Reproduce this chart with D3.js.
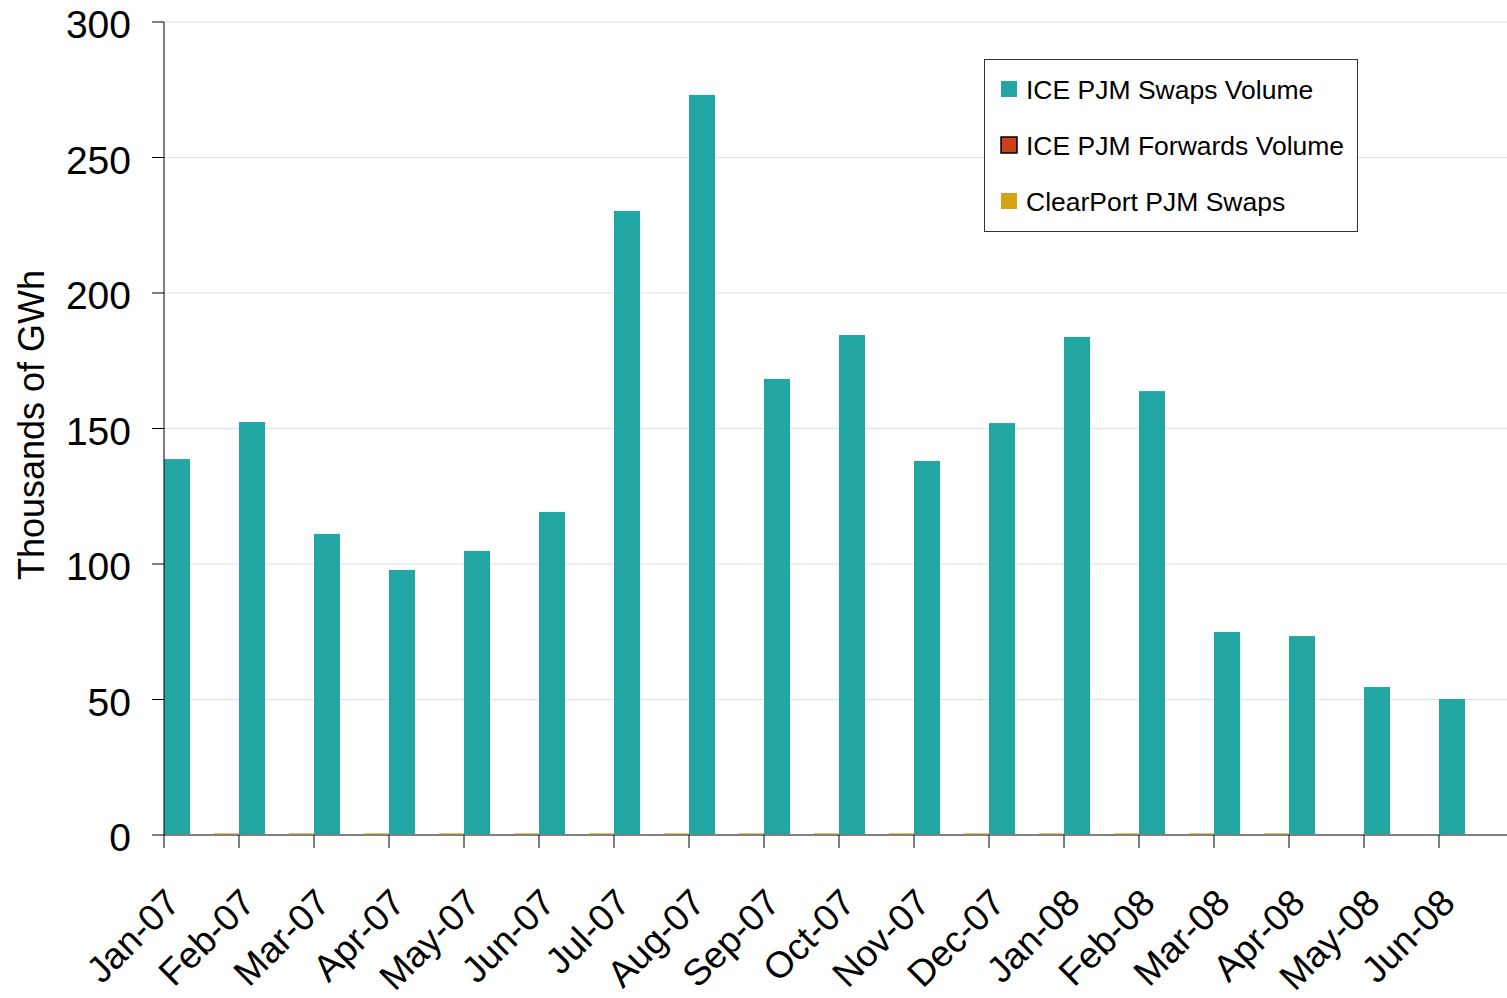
<!DOCTYPE html>
<html>
<head>
<meta charset="utf-8">
<script src="https://cdn.jsdelivr.net/npm/d3@7"></script>
<style>
  html, body { margin: 0; padding: 0; background: #fff; }
  svg { display: block; font-family: "Liberation Sans", Arial, sans-serif; }
</style>
</head>
<body>
<svg id="chart" width="1507" height="998"></svg>
<script>
const categories = ["Jan-07","Feb-07","Mar-07","Apr-07","May-07","Jun-07","Jul-07","Aug-07","Sep-07","Oct-07","Nov-07","Dec-07","Jan-08","Feb-08","Mar-08","Apr-08","May-08","Jun-08"];
const iceSwaps = [138.7,152.4,111.1,97.8,104.8,119.2,230.3,273.1,168.3,184.5,138.0,152.0,183.8,163.8,74.9,73.4,54.6,50.2];
const iceForwards = [0,0,0,0,0,0,0,0,0,0,0,0,0,0,0,0,0,0];
const clearPort = [0.6,0.6,0.6,0.6,0.6,0.6,0.6,0.6,0.6,0.6,0.6,0.6,0.6,0.6,0.6,0,0,0];
const seriesNames = ["ICE PJM Swaps Volume","ICE PJM Forwards Volume","ClearPort PJM Swaps"];
const seriesColors = ["#22a6a3","#c9401a","#d6a313"];
const yTicks = [0,50,100,150,200,250,300];

(function () {
const series = [iceSwaps, iceForwards, clearPort];
const svg = d3.select("#chart");
const mLeft = 164, mTop = 22, mBottom = 835, catW = 75;
const mRight = mLeft + catW * categories.length;

const x = d3.scaleBand().domain(categories).range([mLeft, mRight]).padding(0);
const xs = d3.scaleBand().domain(d3.range(series.length)).range([0, x.bandwidth()]).padding(0);
const y = d3.scaleLinear().domain([0, 300]).range([mBottom, mTop]);

// gridlines
svg.append("g").selectAll("line").data(yTicks.filter(d => d > 0)).join("line")
  .attr("x1", mLeft).attr("x2", 1507)
  .attr("y1", d => y(d)).attr("y2", d => y(d))
  .attr("stroke", "#d9e5e5").attr("stroke-width", 1);

// bars
series.forEach((vals, si) => {
  svg.append("g").selectAll("rect").data(vals).join("rect")
    .attr("x", (d, i) => x(categories[i]) + xs(si))
    .attr("width", xs.bandwidth() + (si === 0 ? 1 : 0))
    .attr("y", d => y(d))
    .attr("height", d => Math.max(0, mBottom - y(d)))
    .attr("fill", seriesColors[si]);
});

// x axis line
svg.append("line").attr("x1", mLeft).attr("x2", 1507).attr("y1", mBottom).attr("y2", mBottom)
  .attr("stroke", "#808080").attr("stroke-width", 2);

// x ticks
svg.append("g").selectAll("line").data(categories).join("line")
  .attr("x1", d => x(d)).attr("x2", d => x(d))
  .attr("y1", mBottom).attr("y2", mBottom + 13)
  .attr("stroke", "#000").attr("stroke-width", 1);

// x labels
svg.append("g").selectAll("text").data(categories).join("text")
  .attr("transform", d => `translate(${x(d) + 18},${905}) rotate(-45)`)
  .attr("text-anchor", "end")
  .attr("font-size", 37)
  .attr("fill", "#000")
  .text(d => d);

// y axis
svg.append("line").attr("x1", mLeft).attr("x2", mLeft).attr("y1", mTop).attr("y2", mBottom)
  .attr("stroke", "#000").attr("stroke-width", 1);
svg.append("g").selectAll("line").data(yTicks).join("line")
  .attr("x1", mLeft - 12).attr("x2", mLeft)
  .attr("y1", d => y(d)).attr("y2", d => y(d))
  .attr("stroke", "#000").attr("stroke-width", 1);
svg.append("g").selectAll("text").data(yTicks).join("text")
  .attr("x", 131).attr("y", d => y(d))
  .attr("dy", "0.42em")
  .attr("text-anchor", "end")
  .attr("font-size", 39)
  .attr("fill", "#000")
  .text(d => d);

// y title
svg.append("text")
  .attr("transform", "translate(44,425) rotate(-90)")
  .attr("text-anchor", "middle")
  .attr("font-size", 36)
  .attr("fill", "#000")
  .text("Thousands of GWh");

// legend
const lg = svg.append("g");
lg.append("rect").attr("x", 984.5).attr("y", 59.5).attr("width", 373).attr("height", 172)
  .attr("fill", "#fff").attr("stroke", "#333").attr("stroke-width", 1);
seriesNames.forEach((name, i) => {
  const cy = 89 + i * 56;
  lg.append("rect").attr("x", 1001).attr("y", cy - 8).attr("width", 16).attr("height", 16)
    .attr("fill", seriesColors[i])
    .attr("stroke", i === 1 ? "#000" : "none").attr("stroke-width", 1.5);
  lg.append("text").attr("x", 1026).attr("y", cy).attr("dy", "0.36em")
    .attr("font-size", 26.5).attr("fill", "#000").text(name);
});
})();
</script>
</body>
</html>
